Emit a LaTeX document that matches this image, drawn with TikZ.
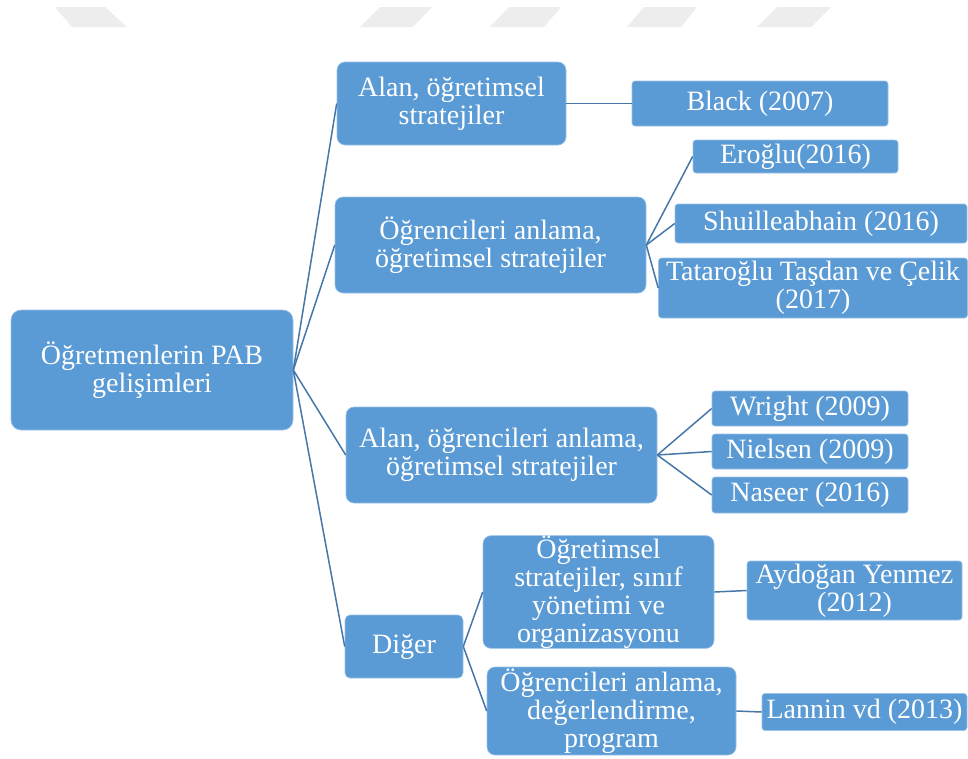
\documentclass[tikz,border=0pt]{standalone}
\usepackage{fontspec}
\setmainfont{Liberation Serif}
\definecolor{boxblue}{HTML}{5B9BD5}
\definecolor{boxedge}{HTML}{9CC2E8}
\definecolor{linkblue}{HTML}{4677A8}
\definecolor{wmgray}{HTML}{EDEDED}
\begin{document}
\begin{tikzpicture}[x=1pt,y=-1pt,
  box/.style={fill=boxblue, draw=boxedge, line width=0.6pt, text=white,
    align=center, inner sep=0pt, font=\fontsize{28}{28}\selectfont},
  topic/.style={box, rounded corners=8pt},
  source/.style={box, rounded corners=3pt},
  link/.style={draw=linkblue, line width=1.5pt},
  wmshape/.style={fill=wmgray}
]
\useasboundingbox (0,0) rectangle (968,758);

% faint header shapes
\fill[wmshape] (55,7) -- (105,7) -- (127,27) -- (72,27) -- cycle;
\fill[wmshape] (380,7) -- (432,7) -- (413,27) -- (360,27) -- cycle;
\fill[wmshape] (509,7) -- (561,7) -- (544,27) -- (490,27) -- cycle;
\fill[wmshape] (644,7) -- (697,7) -- (681,27) -- (627,27) -- cycle;
\fill[wmshape] (777,7) -- (831,7) -- (811,27) -- (757,27) -- cycle;

% root
\node[topic, rounded corners=10pt, minimum width=282pt, minimum height=120pt] (root) at (152,370)
  {Öğretmenlerin PAB\\gelişimleri};

% first level
\node[topic, minimum width=229pt, minimum height=83pt] (a1) at (451.5,103.5)
  {Alan, öğretimsel\\stratejiler};
\node[topic, minimum width=311pt, minimum height=96pt] (a2) at (490.5,245)
  {Öğrencileri anlama,\\öğretimsel stratejiler};
\node[topic, minimum width=311pt, minimum height=96pt] (a3) at (501.5,455)
  {Alan, öğrencileri anlama,\\öğretimsel stratejiler};
\node[topic, rounded corners=5pt, minimum width=118pt, minimum height=63pt] (diger) at (404,646.5)
  {Diğer};

% second level under "Diğer"
\node[topic, minimum width=231pt, minimum height=106pt] (b1) at (598.5,592)
  {Öğretimsel\\stratejiler, sınıf\\yönetimi ve\\organizasyonu};
\node[topic, minimum width=249pt, minimum height=88pt] (b2) at (611.5,711)
  {Öğrencileri anlama,\\değerlendirme,\\program};

% sources
\node[source, minimum width=256pt, minimum height=45pt] (black) at (760,103.5) {Black (2007)};
\node[source, minimum width=205pt, minimum height=33pt] (eroglu) at (795.5,156.5) {Eroğlu(2016)};
\node[source, minimum width=292pt, minimum height=39pt] (shuil) at (821,223.5) {Shuilleabhain (2016)};
\node[source, minimum width=309pt, minimum height=60pt] (tatar) at (813,288)
  {Tataroğlu Taşdan ve Çelik\\(2017)};
\node[source, minimum width=196pt, minimum height=35pt] (wright) at (810,408.5) {Wright (2009)};
\node[source, minimum width=196pt, minimum height=35pt] (nielsen) at (810,451.5) {Nielsen (2009)};
\node[source, minimum width=196pt, minimum height=36pt] (naseer) at (810,495) {Naseer (2016)};
\node[source, minimum width=215pt, minimum height=59pt] (aydogan) at (854.5,590.5)
  {Aydoğan Yenmez\\(2012)};
\node[source, minimum width=205pt, minimum height=37pt] (lannin) at (864.5,712) {Lannin vd (2013)};

% connectors
\draw[link] (root.east) -- (a1.west);
\draw[link] (root.east) -- (a2.west);
\draw[link] (root.east) -- (a3.west);
\draw[link] (root.east) -- (diger.west);

\draw[link] (a1.east) -- (black.west);
\draw[link] (a2.east) -- (eroglu.west);
\draw[link] (a2.east) -- (shuil.west);
\draw[link] (a2.east) -- (tatar.west);
\draw[link] (a3.east) -- (wright.west);
\draw[link] (a3.east) -- (nielsen.west);
\draw[link] (a3.east) -- (naseer.west);
\draw[link] (diger.east) -- (b1.west);
\draw[link] (diger.east) -- (b2.west);
\draw[link] (b1.east) -- (aydogan.west);
\draw[link] (b2.east) -- (lannin.west);
\end{tikzpicture}
\end{document}
